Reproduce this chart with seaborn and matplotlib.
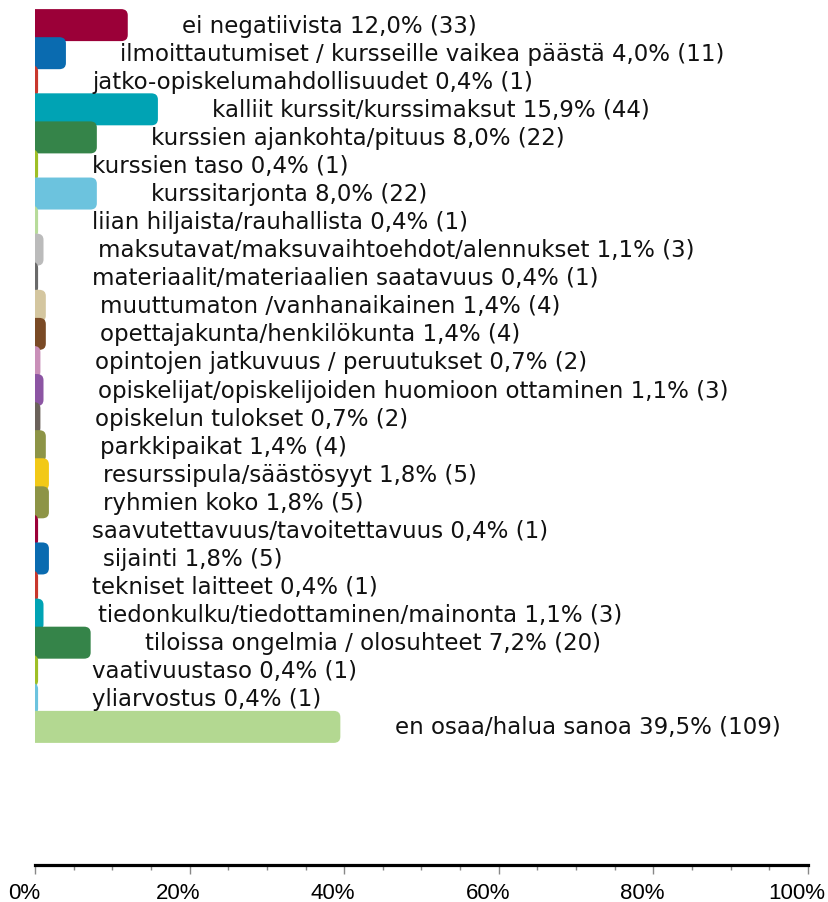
import matplotlib
matplotlib.use("Agg")
import matplotlib.pyplot as plt
import matplotlib.transforms as mtransforms
import seaborn as sns
import pandas as pd
from matplotlib.patches import FancyBboxPatch
from matplotlib.ticker import MultipleLocator

categories = [
    "ei negatiivista",
    "ilmoittautumiset / kursseille vaikea päästä",
    "jatko-opiskelumahdollisuudet",
    "kalliit kurssit/kurssimaksut",
    "kurssien ajankohta/pituus",
    "kurssien taso",
    "kurssitarjonta",
    "liian hiljaista/rauhallista",
    "maksutavat/maksuvaihtoehdot/alennukset",
    "materiaalit/materiaalien saatavuus",
    "muuttumaton /vanhanaikainen",
    "opettajakunta/henkilökunta",
    "opintojen jatkuvuus / peruutukset",
    "opiskelijat/opiskelijoiden huomioon ottaminen",
    "opiskelun tulokset",
    "parkkipaikat",
    "resurssipula/säästösyyt",
    "ryhmien koko",
    "saavutettavuus/tavoitettavuus",
    "sijainti",
    "tekniset laitteet",
    "tiedonkulku/tiedottaminen/mainonta",
    "tiloissa ongelmia / olosuhteet",
    "vaativuustaso",
    "yliarvostus",
    "en osaa/halua sanoa",
]
percents = [12.0, 4.0, 0.4, 15.9, 8.0, 0.4, 8.0, 0.4, 1.1, 0.4, 1.4, 1.4, 0.7,
            1.1, 0.7, 1.4, 1.8, 1.8, 0.4, 1.8, 0.4, 1.1, 7.2, 0.4, 0.4, 39.5]
counts = [33, 11, 1, 44, 22, 1, 22, 1, 3, 1, 4, 4, 2, 3, 2, 4, 5, 5, 1, 5, 1, 3,
          20, 1, 1, 109]
colors = ["#9B0038", "#0A6BB0", "#C8372D", "#00A3B4", "#358449", "#9EBF26",
          "#6CC3DE", "#B7DB9A", "#BBBBBB", "#6A6A6A", "#D4C69F", "#7A4A25",
          "#C98FB8", "#8C55A3", "#6B625A", "#8D9446", "#F2C917", "#8D9446",
          "#9B0038", "#0A6BB0", "#C8372D", "#00A3B4", "#358449", "#9EBF26",
          "#6CC3DE", "#B3D891"]
xticks = [0, 20, 40, 60, 80, 100]
xtick_labels = ["0%", "20%", "40%", "60%", "80%", "100%"]

df = pd.DataFrame({"cat": categories, "pct": percents, "n": counts})

W, H = 829, 903
fig = plt.figure(figsize=(W / 100, H / 100), dpi=100)
ax = fig.add_axes([35 / W, (H - 866) / H, 773 / W, 866 / H])

sns.barplot(data=df, x="pct", y="cat", hue="cat", palette=colors, legend=False,
            orient="h", width=1.14, ax=ax, saturation=1, errorbar=None)

# Replace bars with right-rounded versions
rx = 0.85          # rounding in % units (~6.5 px)
ry = 0.22          # rounding in category units (~6 px)
for p in list(ax.patches):
    x0, y0 = p.get_x(), p.get_y()
    w, h = p.get_width(), p.get_height()
    fc = p.get_facecolor()
    p.set_visible(False)
    fb = FancyBboxPatch((x0 - 3, y0), w + 3, h,
                        boxstyle=f"round,pad=0,rounding_size={rx}",
                        mutation_aspect=ry / rx,
                        facecolor=fc, edgecolor="none", linewidth=0)
    ax.add_patch(fb)

for i, (c, v, n) in enumerate(zip(categories, percents, counts)):
    txt = f"{c} {v:.1f}% ({n})".replace(".", ",")
    ax.annotate(txt, xy=(v, i), xytext=(39, 0), textcoords="offset points",
                ha="left", va="center", fontsize=16.5, color="#111111",
                family="DejaVu Sans", annotation_clip=False)

ax.set_xlim(0, 100)
ax.set_ylim(29.92, -0.93)
ax.set_xlabel("")
ax.set_ylabel("")
ax.set_yticks([])
for s in ["top", "right", "left"]:
    ax.spines[s].set_visible(False)
ax.spines["bottom"].set_linewidth(2.3)
ax.spines["bottom"].set_color("black")
ax.set_xticks(xticks, xtick_labels, fontsize=16, fontfamily="Liberation Sans",
              color="black")
ax.xaxis.set_minor_locator(MultipleLocator(5))
ax.tick_params(axis="x", which="major", length=6.5, width=1, color="#888888",
               pad=6)
ax.tick_params(axis="x", which="minor", length=3.5, width=1, color="#888888")
shift = mtransforms.ScaledTranslation(-11 / 100, 0, fig.dpi_scale_trans)
for lbl in ax.get_xticklabels():
    lbl.set_transform(lbl.get_transform() + shift)
ax.set_facecolor("white")
fig.patch.set_facecolor("white")

fig.savefig("out.png", dpi=100)
